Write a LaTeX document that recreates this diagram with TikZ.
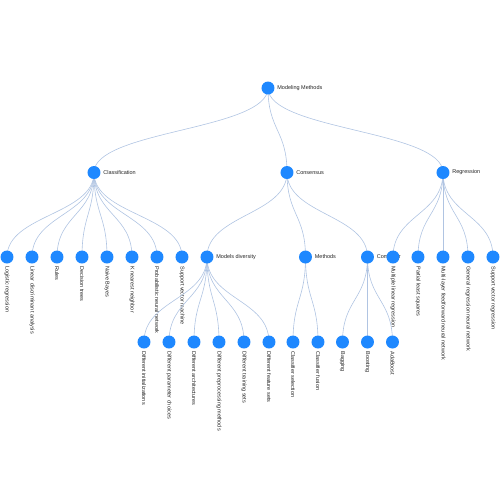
\documentclass[tikz,border=0pt]{standalone}
\usepackage{fontspec}
\setmainfont{Liberation Sans}
\usetikzlibrary{calc}
\pgfdeclarelayer{bg}
\pgfsetlayers{bg,main}
\definecolor{nodeblue}{RGB}{30,136,255}
\definecolor{linkblue}{RGB}{176,196,226}
\definecolor{labelgray}{RGB}{35,35,35}

\tikzset{
  dot/.style={circle, fill=nodeblue, draw=none, minimum size=6.5pt, inner sep=0pt},
  lab/.style={font=\fontsize{2.75}{3}\selectfont, text=labelgray, inner sep=0pt},
  hlab/.style={lab, anchor=west},
  vlab/.style={lab, anchor=west, rotate=-90},
  link/.style={draw=linkblue, line width=0.3pt},
}

% inner node: dot with its label to the right
\newcommand\branchnode[4]{%
  \node[dot] (#1) at (#2,#3) {};
  \begin{pgfonlayer}{bg}\node[hlab] (#1-t) at ($(#1)+(9,0)$) {#4};\end{pgfonlayer}}
% leaf node: dot with its label running downwards
\newcommand\leafnode[4]{%
  \node[dot] (#1) at (#2,#3) {};
  \begin{pgfonlayer}{bg}\node[vlab] (#1-t) at ($(#1)+(0,9)$) {#4};\end{pgfonlayer}}
% vertical s-curve from parent to child, bending at the level midline
\newcommand\treelink[3]{%
  \begin{pgfonlayer}{bg}\draw[link] (#1.center) .. controls (#1 |- #3) and (#2 |- #3) .. (#2.center);\end{pgfonlayer}}

\begin{document}
\begin{tikzpicture}[x=0.5pt,y=-0.5pt]
\useasboundingbox (0,0) rectangle (500,500);

% level midlines for the curves
\coordinate (m01) at (0,130.25);
\coordinate (m12) at (0,214.75);
\coordinate (m23) at (0,299.5);

% level 0
\branchnode{root}{268}{88}{Modeling Methods}
% level 1
\branchnode{cls}{94}{172.5}{Classification}
\branchnode{cons}{287}{172.5}{Consensus}
\branchnode{reg}{443}{172.5}{Regression}
% level 2: classification
\leafnode{lr}{7}{257}{Logistic regression}
\leafnode{lda}{32}{257}{Linear discriminant analysis}
\leafnode{rules}{57}{257}{Rules}
\leafnode{dt}{82}{257}{Decision trees}
\leafnode{nb}{107}{257}{Naive Bayes}
\leafnode{knn}{132}{257}{K nearest neighbor}
\leafnode{pnn}{157}{257}{Probabilistic neural network}
\leafnode{svm}{182}{257}{Support vector machine}
% level 2: consensus
\branchnode{md}{207}{257}{Models diversity}
\branchnode{meth}{305.5}{257}{Methods}
\branchnode{comb}{367.5}{257}{Combiner}
% level 2: regression
\leafnode{mlr}{393}{257}{Multiple linear regression}
\leafnode{pls}{418}{257}{Partial least squares}
\leafnode{mlff}{443}{257}{Multi-layer feedforward neural network}
\leafnode{grnn}{468}{257}{General regression neural network}
\leafnode{svr}{493}{257}{Support vector regression}
% level 3
\leafnode{d1}{144}{342}{Different initializations}
\leafnode{d2}{169}{342}{Different parameter choices}
\leafnode{d3}{194}{342}{Different architectures}
\leafnode{d4}{219}{342}{Different preprocessing methods}
\leafnode{d5}{244}{342}{Different training sets}
\leafnode{d6}{269}{342}{Different feature sets}
\leafnode{cs}{293}{342}{Classifier selection}
\leafnode{cf}{318}{342}{Classifier fusion}
\leafnode{bag}{342.5}{342}{Bagging}
\leafnode{boost}{367.5}{342}{Boosting}
\leafnode{ada}{392.5}{342}{AdaBoost}

% connectors
\foreach \c in {cls,cons,reg} {\treelink{root}{\c}{m01}}
\foreach \c in {lr,lda,rules,dt,nb,knn,pnn,svm} {\treelink{cls}{\c}{m12}}
\foreach \c in {md,meth,comb} {\treelink{cons}{\c}{m12}}
\foreach \c in {mlr,pls,mlff,grnn,svr} {\treelink{reg}{\c}{m12}}
\foreach \c in {d1,d2,d3,d4,d5,d6} {\treelink{md}{\c}{m23}}
\foreach \c in {cs,cf} {\treelink{meth}{\c}{m23}}
\foreach \c in {bag,boost,ada} {\treelink{comb}{\c}{m23}}
\end{tikzpicture}
\end{document}
